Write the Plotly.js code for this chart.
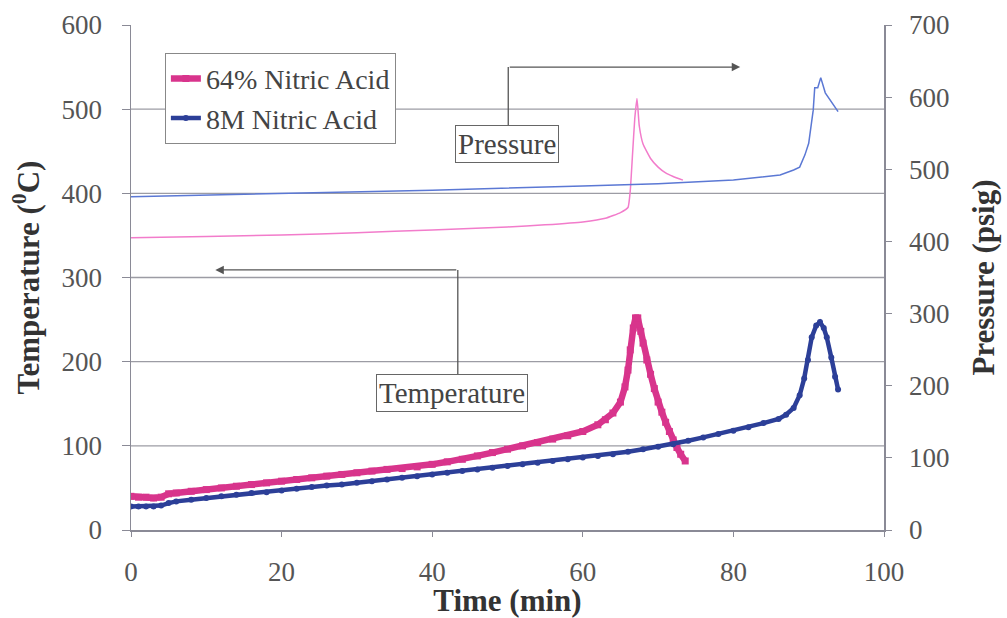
<!DOCTYPE html>
<html>
<head>
<meta charset="utf-8">
<script src="https://cdn.plot.ly/plotly-3.0.1.min.js"></script>
<style>html,body{margin:0;padding:0;background:#fff}#chart{width:1007px;height:618px}</style>
</head>
<body>
<div id="chart"></div>
<script>
// ---- Data ----
var seriesNames = ['64% Nitric Acid', '8M Nitric Acid'];

// Temperature, 64% Nitric Acid (degC)
var tTemp64 = [0,1,2,3,4,5,6,8,10,12,14,16,18,20,22,24,26,28,30,32,34,36,38,40,42,44,46,48,50,52,54,56,58,60,62,63,64,65,65.6,66,66.3,66.7,67,67.3,67.7,68,68.5,69,69.5,70,70.5,71,71.5,72,72.5,73,73.6];
var temp64  = [40,39,39,38,39,43,44,46,48,50,52,54,56,58,60,62,64,66,68,70,72,73,75,78,81,84,88,92,96,100,104,108,112,117,125,131,139,152,170,190,214,240,252,252,236,222,202,185,168,152,140,128,117,107,98,90,82];

// Temperature, 8M Nitric Acid (degC)
var tTemp8M = [0,1,2,3,4,5,6,8,10,12,14,16,18,20,22,24,26,28,30,32,34,36,38,40,42,44,46,48,50,52,54,56,58,60,62,64,66,68,70,72,74,76,78,80,82,84,86,87,88,88.8,89.4,89.9,90.4,91,91.5,92,92.4,93,93.5,93.9];
var temp8M  = [28,28,28,28,29,32,34,36,38,40,42,44,45,47,49,51,53,54,56,58,60,62,64,66,68,70,72,74,76,78,80,82,84,86,88,90,93,96,99,102,106,110,114,118,122,127,132,137,145,160,180,202,229,243,247,240,229,205,182,167];

// Pressure, 64% Nitric Acid (psig)
var tPres64 = [0,10,20,30,40,50,55,60,63,65,66,66.3,66.6,66.9,67.2,67.5,68,69,70,71,72,73.3];
var pres64  = [405,407,409,412,416,420,423,427,432,440,447,470,520,570,598,560,535,515,503,495,490,485];

// Pressure, 8M Nitric Acid (psig)
var tPres8M = [0,20,40,60,70,80,85,86.2,88,88.8,89.5,90,90.6,90.8,91.2,91.6,92.2,93.1,93.9];
var pres8M  = [462,466,471,477,480,485,490,492,499,503,520,536,582,613,613,627,606,592,580];

var gridValues = [100,200,300,400,500];

// ---- Styles ----
var mag = '#d8348c', magLight = '#f27ccb';
var blu = '#2c3f98', bluLight = '#5b78d4';
var serif = 'Liberation Serif, Times New Roman, serif';

var traces = [
  {x: tTemp64, y: temp64, name: seriesNames[0], mode: 'lines+markers', yaxis: 'y',
   line: {color: mag, width: 6.5}, marker: {symbol: 'square', size: 7, color: mag}},
  {x: tTemp8M, y: temp8M, name: seriesNames[1], mode: 'lines+markers', yaxis: 'y',
   line: {color: blu, width: 4.5}, marker: {symbol: 'circle', size: 6, color: blu}},
  {x: tPres64, y: pres64, name: seriesNames[0] + ' pressure', mode: 'lines', yaxis: 'y2',
   showlegend: false, line: {color: magLight, width: 1.5, shape: 'spline', smoothing: 0.4}},
  {x: tPres8M, y: pres8M, name: seriesNames[1] + ' pressure', mode: 'lines', yaxis: 'y2',
   showlegend: false, line: {color: bluLight, width: 1.5}}
];

var shapes = gridValues.map(function (v) {
  return {type: 'line', xref: 'paper', x0: 0, x1: 1, yref: 'y', y0: v, y1: v,
          line: {color: '#9c9ca4', width: 1.3}, layer: 'below'};
});
// annotation connector lines (elbow parts)
shapes.push({type: 'line', xref: 'x', yref: 'y', x0: 50.1, x1: 50.1, y0: 480, y1: 550, line: {color: '#555', width: 1.3}});
shapes.push({type: 'line', xref: 'x', yref: 'y', x0: 43.4, x1: 43.4, y0: 184, y1: 309, line: {color: '#555', width: 1.3}});

var annFont = {family: serif, size: 29, color: '#444'};
var annotations = [
  {xref: 'x', yref: 'y', x: 80.9, y: 550, ax: 50.1, ay: 550, axref: 'x', ayref: 'y',
   text: '', showarrow: true, arrowhead: 2, arrowsize: 1.3, arrowwidth: 1.3, arrowcolor: '#555'},
  {xref: 'x', yref: 'y', x: 11.2, y: 309, ax: 43.4, ay: 309, axref: 'x', ayref: 'y',
   text: '', showarrow: true, arrowhead: 2, arrowsize: 1.3, arrowwidth: 1.3, arrowcolor: '#555'},
  {xref: 'x', yref: 'y', x: 49.9, y: 458.6, text: 'Pressure', showarrow: false, font: annFont,
   bgcolor: '#fff', bordercolor: '#666', borderwidth: 1, borderpad: 2},
  {xref: 'x', yref: 'y', x: 42.6, y: 162.8, text: 'Temperature', showarrow: false, font: annFont,
   bgcolor: '#fff', bordercolor: '#666', borderwidth: 1, borderpad: 2}
];

var tickFont = {family: serif, size: 27, color: '#555'};
var titleFont = {family: serif, size: 31, color: '#333', weight: 'bold'};

var layout = {
  width: 1007, height: 618,
  margin: {l: 131, r: 123, t: 25, b: 88},
  paper_bgcolor: '#fff', plot_bgcolor: '#fff',
  showlegend: true,
  legend: {x: 0.045, y: 0.945, xanchor: 'left', yanchor: 'top', bgcolor: '#fff',
           bordercolor: '#888', borderwidth: 1, font: {family: serif, size: 28, color: '#444'},
           tracegroupgap: 0, itemwidth: 30},
  xaxis: {range: [0, 100], dtick: 20, tick0: 0, showgrid: false, zeroline: false,
          showline: true, linecolor: '#8a8a96', linewidth: 1.5,
          ticks: 'outside', ticklen: 5, tickcolor: '#8a8a96', tickfont: tickFont,
          ticklabelstandoff: 12,
          title: {text: 'Time (min)', font: titleFont, standoff: 2}},
  yaxis: {range: [0, 600], dtick: 100, tick0: 0, showgrid: false, zeroline: false,
          showline: true, linecolor: '#8a8a96', linewidth: 1.5,
          ticks: 'outside', ticklen: 8, tickcolor: '#8a8a96', tickfont: tickFont,
          ticklabelstandoff: 14,
          title: {text: 'Temperature (<sup>0</sup>C)', font: titleFont, standoff: 12}},
  yaxis2: {range: [0, 700], dtick: 100, tick0: 0, overlaying: 'y', side: 'right', anchor: 'x',
           showgrid: false, zeroline: false, showline: true, linecolor: '#8a8a96', linewidth: 1.5,
           ticks: 'outside', ticklen: 6, tickcolor: '#8a8a96', tickfont: tickFont,
           ticklabelstandoff: 12,
           title: {text: 'Pressure (psig)', font: titleFont, standoff: 24}},
  yaxis3: {range: [0, 700], dtick: 100, tick0: 0, overlaying: 'y', side: 'right', anchor: 'x',
           showgrid: false, zeroline: false, showline: false, showticklabels: false,
           ticks: 'inside', ticklen: 6, tickcolor: '#8a8a96'},
  shapes: shapes,
  annotations: annotations
};

Plotly.newPlot('chart', traces, layout, {displayModeBar: false, staticPlot: true});
</script>
</body>
</html>
